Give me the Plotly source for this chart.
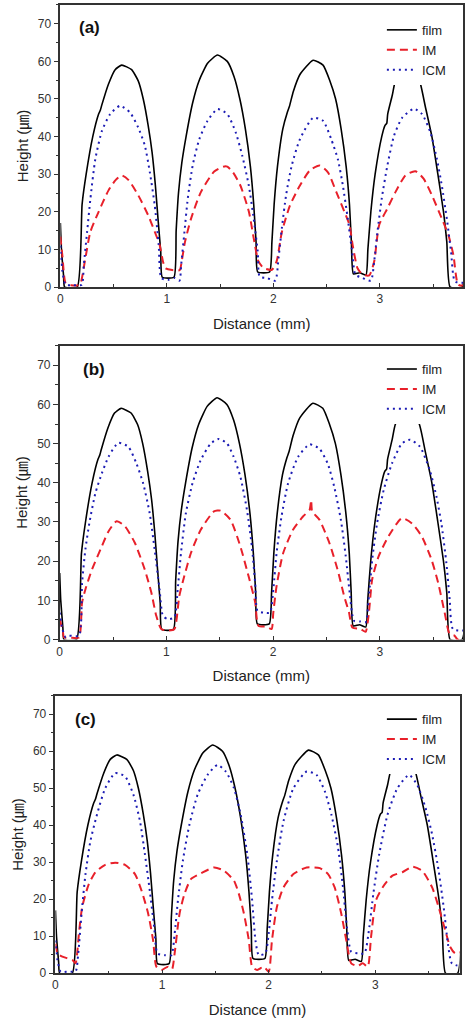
import plotly.graph_objects as go

# ---------------- data ----------------
film_x = [0, 0.01, 0.03, 0.04, 0.158, 0.204, 0.242, 0.304, 0.359, 0.375, 0.39, 0.452, 0.514, 0.576,
          0.669, 0.731, 0.778, 0.824, 0.861, 0.892, 0.917, 0.942, 0.957, 1.066, 1.087, 1.109, 1.14,
          1.18, 1.242, 1.304, 1.382, 1.475, 1.567, 1.63, 1.685, 1.737, 1.784, 1.815, 1.837, 1.853,
          1.964, 1.986, 2.007, 2.038, 2.088, 2.131, 2.15, 2.187, 2.249, 2.373, 2.466, 2.528, 2.584,
          2.636, 2.683, 2.714, 2.732, 2.751, 2.81, 2.869, 2.887, 2.915, 2.955, 3.017, 3.048, 3.064,
          3.073, 3.116, 3.147, 3.26, 3.37, 3.426, 3.488, 3.544, 3.597, 3.628, 3.659, 3.772, 3.81]
film_y = [17, 10, 3, 0, 0, 22, 30, 40, 46, 47, 48.5, 54, 57.8, 59,
          57.8, 54.8, 50, 43, 35.8, 27, 18, 9.4, 2.6, 2.6, 15, 25, 33,
          40, 49, 55, 59.5, 61.7, 60, 56, 50, 42, 32, 22, 12, 4,
          4, 12, 22, 32, 42, 46.5, 48, 52, 56.5, 60.3, 59, 55, 50,
          42, 32, 22, 12, 3.5, 3.8, 3.2, 10, 20, 30, 40, 43, 43.5,
          46, 51, 55, 59.5, 55, 48, 40, 30, 20, 12, 0, 0, 12]

im_a_x = [0, 0.02, 0.05, 0.1, 0.17, 0.19, 0.235, 0.282, 0.359, 0.452, 0.52, 0.576, 0.638, 0.731,
          0.824, 0.886, 0.932, 0.963, 0.985, 1.05, 1.12, 1.14, 1.17, 1.227, 1.32, 1.444, 1.53,
          1.567, 1.62, 1.69, 1.77, 1.815, 1.86, 1.91, 1.986, 2.03, 2.08, 2.156, 2.249, 2.342,
          2.435, 2.512, 2.59, 2.667, 2.714, 2.745, 2.79, 2.838, 2.9, 2.946, 2.993, 3.07, 3.147,
          3.24, 3.333, 3.41, 3.488, 3.581, 3.643, 3.69, 3.736, 3.81]
im_a_y = [13.4, 8, 1, 0.5, 0.5, 1, 7.7, 14.7, 20, 25.7, 28.5, 29.7, 28.5, 24.4,
          19.1, 14.7, 11.2, 6.8, 5, 4.5, 4.5, 7, 12, 18.2, 25.3, 30.7, 32,
          32, 30.5, 27, 20, 13, 6.8, 5, 4.6, 6.8, 14.7, 21.7, 27, 31,
          32.3, 30.5, 25.3, 20, 16.5, 11, 5, 3.3, 3.1, 6.8, 16.5, 20.9, 25.3,
          29.7, 30.8, 28.8, 24.4, 18.2, 13.8, 8.5, 0.6, 0.4]

icm_a_x = [0, 0.02, 0.05, 0.12, 0.2, 0.22, 0.251, 0.282, 0.328, 0.39, 0.468, 0.561, 0.654, 0.731,
           0.793, 0.84, 0.886, 0.923, 0.948, 1.01, 1.072, 1.118, 1.134, 1.165, 1.196, 1.242,
           1.304, 1.382, 1.475, 1.567, 1.645, 1.707, 1.769, 1.815, 1.853, 1.871, 1.939, 2.017,
           2.048, 2.079, 2.119, 2.172, 2.249, 2.373, 2.466, 2.543, 2.605, 2.652, 2.698, 2.739,
           2.77, 2.838, 2.915, 2.946, 2.977, 3.017, 3.07, 3.132, 3.209, 3.318, 3.395, 3.473,
           3.535, 3.581, 3.628, 3.668, 3.705, 3.81]
icm_a_y = [11, 4, 0.6, 0.5, 0.6, 5.9, 14.7, 23.5, 34, 41.5, 46, 48.2, 46.4, 42.4,
           37.6, 30.5, 21.7, 11.2, 2.4, 1.9, 2.4, 1.7, 5.9, 14.7, 23.5, 32.3,
           39.3, 44.2, 47.3, 46, 41.2, 35, 27, 18.2, 9.4, 2.8, 2.4, 1.7,
           7.7, 15.6, 24.4, 32.3, 39.3, 45, 44.2, 39.3, 34, 27, 18.2, 9.4,
           3.3, 2.4, 1.7, 6.8, 14.7, 23.5, 32.3, 40.2, 45, 47.4, 46, 41.2,
           34, 27, 18.2, 9.4, 1.5, 1.1]

im_b_x = [0, 0.03, 0.04, 0.1, 0.18, 0.21, 0.241, 0.303, 0.395, 0.457, 0.534, 0.612, 0.704, 0.797,
          0.859, 0.905, 0.952, 1.013, 1.075, 1.121, 1.168, 1.23, 1.322, 1.446, 1.508, 1.6, 1.693,
          1.77, 1.832, 1.863, 1.94, 1.986, 2.002, 2.033, 2.095, 2.187, 2.28, 2.342, 2.357, 2.366,
          2.434, 2.527, 2.604, 2.666, 2.712, 2.743, 2.82, 2.867, 2.898, 2.929, 2.99, 3.083, 3.207,
          3.299, 3.392, 3.485, 3.547, 3.608, 3.655, 3.7, 3.73, 3.81]
im_b_y = [5.2, 2, 0.6, 0.5, 0.5, 9.5, 12.8, 17.9, 23.8, 27.6, 30.2, 28.9, 24.7, 17.9,
          12, 6.1, 2.7, 2.3, 2.7, 11.1, 16.2, 22.1, 28, 32.7, 32.9, 30.6, 23.8,
          16.2, 9.5, 3.5, 3.3, 2.7, 6.9, 13.7, 22.1, 28, 31.4, 33.1, 35.6, 32.7,
          30.6, 24.7, 17.9, 11.1, 6.9, 3.1, 2.7, 2, 6.9, 15.4, 21.3, 26.4, 31,
          29.7, 26.4, 20.4, 14.5, 6.9, 1.4, 1, 0, 0]

icm_b_x = [0, 0.025, 0.056, 0.086, 0.18, 0.21, 0.241, 0.278, 0.334, 0.395, 0.457, 0.55, 0.643,
           0.72, 0.782, 0.843, 0.89, 0.936, 0.967, 1.013, 1.075, 1.106, 1.137, 1.183, 1.245,
           1.322, 1.415, 1.492, 1.569, 1.631, 1.693, 1.755, 1.801, 1.832, 1.854, 1.909, 1.971,
           2.002, 2.033, 2.079, 2.141, 2.234, 2.342, 2.434, 2.512, 2.573, 2.635, 2.681, 2.718,
           2.759, 2.82, 2.867, 2.898, 2.929, 2.975, 3.037, 3.114, 3.207, 3.284, 3.377, 3.469,
           3.531, 3.577, 3.624, 3.655, 3.686, 3.81]
icm_b_y = [6.9, 2.7, 0.6, 1, 1, 14.5, 23, 29.7, 37.3, 42.4, 46.6, 50.2, 49.2,
           44.9, 39.9, 32.3, 23, 12.8, 6.1, 5.2, 5.7, 12.8, 22.1, 32.3, 39.9,
           45.8, 50, 51.2, 50, 46.6, 41.6, 33.1, 23.8, 14.5, 7.3, 6.9, 6.9,
           12.8, 22.1, 31.4, 39.9, 46.6, 49.8, 48.7, 44.9, 39, 30.6, 21.3, 12,
           4.8, 4.6, 4.4, 11.1, 20.4, 29.7, 38.2, 44.9, 50, 51, 49.2, 43.2,
           36.5, 29.7, 19.6, 10.3, 2.7, 2.3]

im_c_x = [0, 0.019, 0.065, 0.158, 0.189, 0.204, 0.22, 0.251, 0.313, 0.375, 0.467, 0.56, 0.653,
          0.746, 0.808, 0.87, 0.916, 0.947, 0.994, 1.056, 1.093, 1.118, 1.164, 1.21, 1.272, 1.365,
          1.489, 1.582, 1.675, 1.721, 1.768, 1.814, 1.845, 1.892, 1.954, 2.0, 2.031, 2.077, 2.139,
          2.232, 2.356, 2.48, 2.557, 2.619, 2.681, 2.728, 2.774, 2.836, 2.882, 2.929, 2.96, 3.006,
          3.068, 3.161, 3.254, 3.347, 3.44, 3.533, 3.594, 3.656, 3.703, 3.749, 3.81]
im_c_y = [8, 5.4, 4.5, 3.6, 2.7, 5.4, 10.7, 17.9, 24.1, 27.3, 29.3, 29.9, 29.3,
          26.8, 22.3, 16.1, 8.9, 1.8, 0.9, 1.8, 1.1, 5.4, 16.1, 21.4, 25.5, 27,
          28.6, 27.7, 25, 21.4, 16.1, 8.9, 1.8, 0.9, 1.8, 0.4, 8.9, 17.9, 23.2,
          26.8, 28.6, 28.4, 26.8, 23.2, 16.1, 8.9, 2.7, 2, 2.7, 1.8, 9.8, 19.7,
          23.2, 26.4, 27.3, 28.8, 27.7, 23.2, 17.9, 11.6, 7.1, 5.4, 5.8]

icm_c_x = [0, 0.019, 0.05, 0.12, 0.189, 0.214, 0.245, 0.282, 0.328, 0.39, 0.467, 0.56, 0.653,
           0.731, 0.793, 0.839, 0.885, 0.926, 0.957, 1.025, 1.087, 1.118, 1.149, 1.195, 1.257,
           1.334, 1.427, 1.52, 1.598, 1.675, 1.737, 1.799, 1.845, 1.876, 1.907, 1.969, 2.0,
           2.031, 2.077, 2.139, 2.232, 2.356, 2.449, 2.526, 2.588, 2.65, 2.697, 2.734, 2.774,
           2.836, 2.898, 2.944, 2.981, 3.037, 3.115, 3.207, 3.316, 3.393, 3.471, 3.533, 3.594,
           3.641, 3.681, 3.718, 3.81]
icm_c_y = [8.9, 3.6, 0.4, 0.5, 0.5, 5.4, 16.1, 26.8, 35.7, 42.9, 50, 54.1, 53.2,
           48.3, 41.1, 32.2, 22.3, 12.5, 5.4, 4.9, 4.9, 10.7, 19.7, 30.4, 40.2,
           48.3, 53.6, 56.3, 54.5, 50, 42.9, 32.2, 19.7, 8.9, 4.9, 5.4, 10.7,
           19.7, 30.4, 41.1, 50, 54.5, 53.6, 49.2, 42.9, 34, 23.2, 12.5, 5.8,
           5.4, 5.4, 12.5, 21.4, 32.2, 42.9, 50, 53.6, 50.9, 44.7, 37.5, 27.7,
           17.9, 8, 2.7, 1.8]

panel_labels = ["(a)", "(b)", "(c)"]
series_names = ["film", "IM", "ICM"]
x_ticks = [0, 1, 2, 3]
y_ticks = [0, 10, 20, 30, 40, 50, 60, 70]

# ---------------- layout geometry (pixels) ----------------
W, H = 465, 1023
panels = [
    dict(x0=58, x1=465, yt=5, yb=289, xmax=3.78, lab=(0.275, 69), leg=15),
    dict(x0=57.3, x1=465, yt=348, yb=644, xmax=3.78, lab=(0.325, 69), leg=356.5),
    dict(x0=53, x1=461.5, yt=700.5, yb=980, xmax=3.79, lab=(0.28, 68.5), leg=709),
]
series = [
    [(film_x, film_y), (im_a_x, im_a_y), (icm_a_x, icm_a_y)],
    [(film_x, film_y), (im_b_x, im_b_y), (icm_b_x, icm_b_y)],
    [(film_x, film_y), (im_c_x, im_c_y), (icm_c_x, icm_c_y)],
]
styles = [
    dict(color="black", width=1.6, dash="solid", shape="spline", smoothing=0.5),
    dict(color="#e8202a", width=2, dash="8px,5px", shape="spline", smoothing=0.6),
    dict(color="#1c1cb4", width=2, dash="2px,4px", shape="spline", smoothing=0.6),
]

FONT = "Liberation Sans, Arial, Noto Sans CJK JP, sans-serif"
fig = go.Figure()
layout = dict(width=W, height=H, margin=dict(l=0, r=0, t=0, b=0),
              paper_bgcolor="white", plot_bgcolor="white",
              font=dict(family=FONT, color="#222", size=12), annotations=[])

for i, p in enumerate(panels):
    sfx = "" if i == 0 else str(i + 1)
    xa, ya = "x" + sfx, "y" + sfx
    leg = "legend" + sfx
    for j, (xs, ys) in enumerate(series[i]):
        fig.add_trace(go.Scatter(x=xs, y=ys, mode="lines", name=series_names[j],
                                 line=styles[j], xaxis=xa, yaxis=ya, legend=leg,
                                 hoverinfo="skip"))
    axline = dict(showline=True, mirror=True, linecolor="#333", linewidth=1.5,
                  showgrid=False, zeroline=False)
    layout["xaxis" + sfx] = dict(
        domain=[p["x0"] / W, p["x1"] / W], range=[0, p["xmax"]], anchor=ya,
        tickvals=x_ticks, ticks="inside", ticklen=4, tickcolor="#333",
        minor=dict(dtick=0.5, tick0=0, ticks="inside", ticklen=3, tickcolor="#333"),
        tickfont=dict(size=12, color="#333"),
        title=dict(text="Distance (mm)", font=dict(size=15, color="#222"), standoff=13),
        **axline)
    layout["yaxis" + sfx] = dict(
        domain=[1 - p["yb"] / H, 1 - p["yt"] / H], range=[0, 75], anchor=xa,
        tickvals=y_ticks, ticks="outside", ticklen=5, tickcolor="#333",
        minor=dict(dtick=5, tick0=0, ticks="outside", ticklen=3, tickcolor="#333"),
        tickfont=dict(size=12, color="#333"),
        title=dict(text="Height (㎛)", font=dict(size=15, color="#222"), standoff=6),
        **axline)
    layout[leg] = dict(x=383 / W, y=1 - p["leg"] / H, xanchor="left", yanchor="top",
                       bgcolor="white", borderwidth=0, font=dict(size=13, color="#222"),
                       itemwidth=30)
    layout["annotations"].append(dict(
        text="<b>" + panel_labels[i] + "</b>", x=p["lab"][0], y=p["lab"][1],
        xref=xa, yref=ya, showarrow=False, font=dict(size=17, color="#111")))

fig.update_layout(**layout)
fig.write_html("out.html", config={"displayModeBar": False},
               post_script="document.body.style.margin='0';document.body.style.overflow='hidden';")
